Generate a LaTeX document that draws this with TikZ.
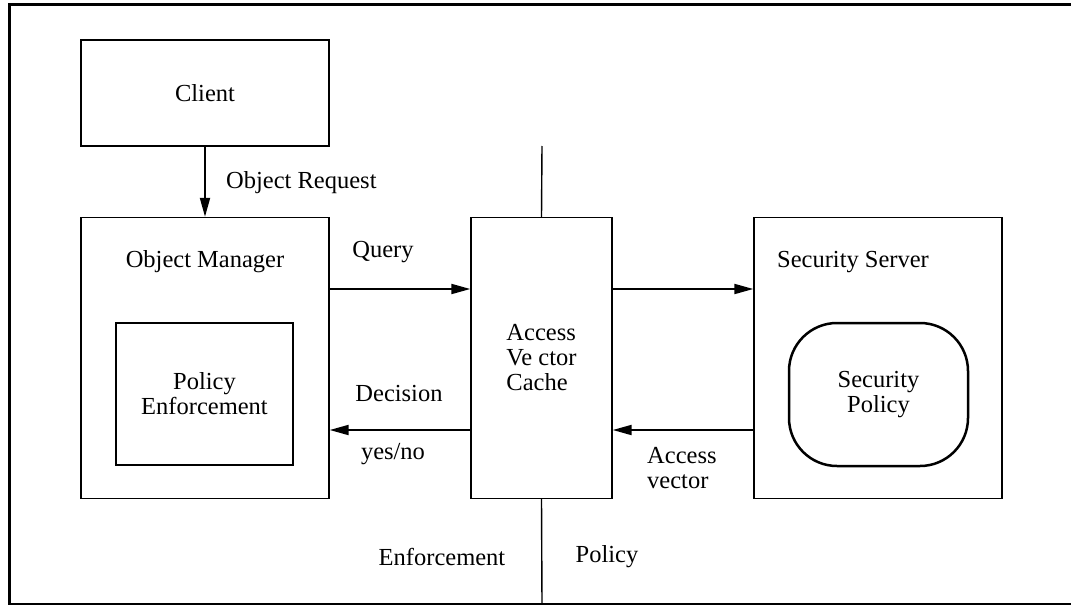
\documentclass[tikz,border=0pt]{standalone}
\usepackage{fontspec}
\setmainfont{Liberation Serif}
\usetikzlibrary{arrows.meta}
\begin{document}
\begin{tikzpicture}[x=1pt,y=-1pt,
  box/.style={draw, line width=1.4pt, inner sep=0pt},
  arr/.style={line width=2pt, -{Triangle[length=19pt,width=10pt]}},
  lbl/.style={inner sep=0pt, font=\fontsize{24.5}{25}\selectfont},
  every node/.style={font=\fontsize{24.5}{25}\selectfont}]
\useasboundingbox (0,0) rectangle (1071,605);
% outer frame
\draw[line width=3pt] (1075,4) -- (9,4) -- (9,604) -- (1075,604);
% boxes
\node[box, minimum width=248, minimum height=106] (client) at (205,93) {Client};
\node[box, minimum width=248, minimum height=281] (om) at (205,358) {};
\node[lbl] (omt) at (205,262) {Object Manager};
\node[box, minimum width=177, minimum height=142, align=center] (pe) at (204.5,394) {Policy\\Enforcement};
\node[box, minimum width=141, minimum height=281, align=left] (avc) at (541.5,358) {Access\\Ve ctor\\Cache};
\node[box, minimum width=248, minimum height=281] (ss) at (878,358) {};
\node[lbl] (sst) at (853,262) {Security Server};
\node[draw, line width=2.5pt, rounded corners=48pt, minimum width=179, minimum height=143, align=center, inner sep=0pt] (sp) at (878.5,394.5) {Security\\Policy};
% divider
\coordinate (dtop) at (542,146);
\coordinate (dbot) at (542,604);
\draw[line width=1.4pt] (dtop) -- (avc.north);
\draw[line width=1.4pt] (avc.south) -- (dbot);
% arrows
\draw[arr] (client.south) -- (om.north);
\draw[arr] (om.east |- 0,289) -- (avc.west |- 0,289);
\draw[arr] (avc.east |- 0,289) -- (ss.west |- 0,289);
\draw[arr] (avc.west |- 0,430) -- (om.east |- 0,430);
\draw[arr] (ss.west |- 0,430) -- (avc.east |- 0,430);
% labels
\node[lbl, anchor=west] (req) at (226,183) {Object Request};
\node[lbl] (q) at (383,252) {Query};
\node[lbl] (dec) at (399,394) {Decision};
\node[lbl] (yn) at (393,454) {yes/no};
\node[lbl, align=left, anchor=north west] (av) at (647,447) {Access\\vector};
\node[lbl] (enf) at (442,557) {Enforcement};
\node[lbl] (pol) at (607,557) {Policy};
\end{tikzpicture}
\end{document}
